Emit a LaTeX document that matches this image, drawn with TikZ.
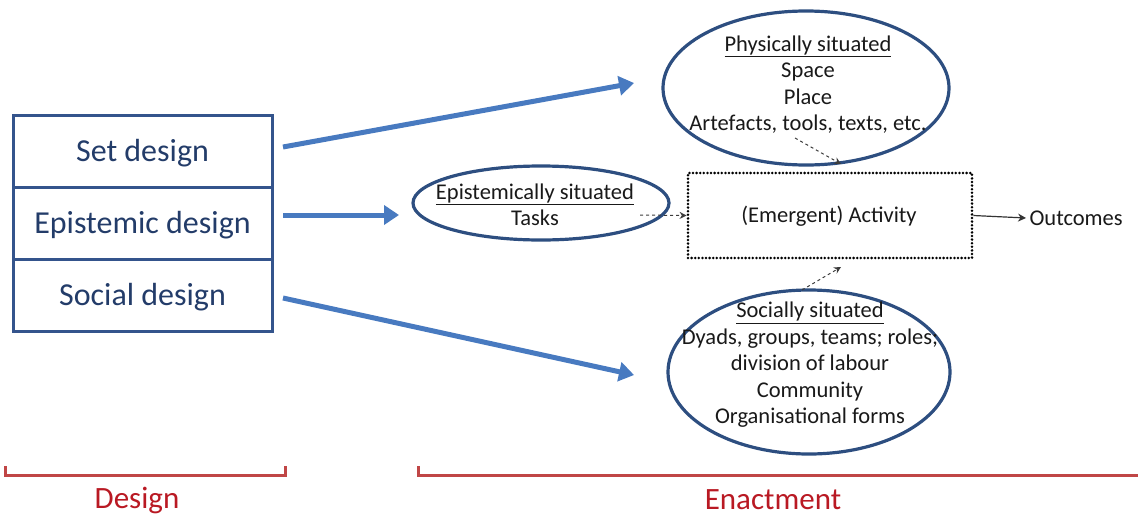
\documentclass[tikz,border=0pt]{standalone}
\usepackage{fontspec}
\setmainfont{Carlito}
\usetikzlibrary{arrows.meta,shapes.geometric,calc}
\definecolor{boxblue}{RGB}{52,84,140}
\definecolor{boxtext}{RGB}{35,60,105}
\definecolor{ellblue}{RGB}{45,78,128}
\definecolor{arrblue}{RGB}{72,122,192}
\definecolor{brred}{RGB}{192,70,70}
\definecolor{txtred}{RGB}{185,25,35}
\definecolor{dgray}{RGB}{60,60,60}
\tikzset{
  dbox/.style={draw=boxblue,line width=3pt,minimum width=259pt,minimum height=72pt,inner sep=0pt,
    text=boxtext,font=\fontsize{32}{36}\selectfont,text height=27pt,text depth=7pt},
  ell/.style={draw=ellblue,line width=3.2pt,ellipse,inner sep=0pt},
  etext/.style={align=center,font=\fontsize{22.5}{26.5}\selectfont,text=black!90},
  bigarrow/.style={draw=arrblue,line width=5pt,-{Triangle[width=19pt,length=15pt]}},
  dasharrow/.style={draw=dgray,line width=1pt,dashed,-{Stealth[width=7pt,length=7pt]}},
  solarrow/.style={draw=black!80,line width=1.2pt,-{Stealth[width=8pt,length=8pt]}},
  dotbox/.style={draw=black,line width=2.8pt,line cap=round,dash pattern=on 0pt off 3.6pt,minimum width=284pt,minimum height=85pt,inner sep=0pt},
  bracket/.style={draw=brred,line width=3pt},
  redlabel/.style={text=txtred,font=\fontsize{31}{36}\selectfont}
}
\begin{document}
\begin{tikzpicture}[x=1pt,y=-1pt]
\useasboundingbox (0,0) rectangle (1138,517);
% design boxes
\node[dbox] (sd) at (142.5,151) {Set design};
\node[dbox] (ed) at (142.5,223) {Epistemic design};
\node[dbox] (so) at (142.5,295) {Social design};
% ellipses
\node[ell,minimum width=286pt,minimum height=154pt] (phys) at (806,88) {};
\node[etext] (physt) at (808,84.5) {\underline{Physically situated}\\Space\\Place\\Artefacts, tools, texts, etc.};
\node[ell,minimum width=256pt,minimum height=74pt] (epi) at (541,203) {};
\node[etext] (epit) at (535,205) {\underline{Epistemically situated}\\Tasks};
\node[ell,minimum width=282pt,minimum height=164pt] (soc) at (809,372) {};
\node[etext] (soct) at (810,365) {\underline{Socially situated}\\Dyads, groups, teams; roles;\\division of labour\\Community\\Organisational forms};
% activity
\node[dotbox] (act) at (830,215.5) {};
\node[etext] (actt) at (829,216) {(Emergent) Activity};
\node[etext,anchor=west] (out) at (1026,218) {Outcomes};
% thick arrows
\coordinate (a1s) at (283,147);
\coordinate (a1e) at (634,83);
\coordinate (a2s) at (283,215);
\coordinate (a2e) at (399,215);
\coordinate (a3s) at (283,298);
\coordinate (a3e) at (634,375);
\draw[bigarrow] (a1s) -- (a1e);
\draw[bigarrow] (a2s) -- (a2e);
\draw[bigarrow] (a3s) -- (a3e);
% dashed arrows
\coordinate (d1s) at (795,138);
\coordinate (d1e) at (841,164);
\coordinate (d2s) at (802,290);
\coordinate (d2e) at (841,267);
\coordinate (d3s) at (640,215);
\draw[dasharrow] (d1s) -- (d1e);
\draw[dasharrow] (d2s) -- (d2e);
\draw[dasharrow] (d3s) -- (act.west);
\draw[solarrow] (act.east) -- (out.west);
% brackets
\draw[bracket] (5,466) -- (5,475) -- (285,475) -- (285,466);
\draw[bracket] (418,466) -- (418,475) -- (1140,475);
\node[redlabel] (design) at (137,500) {Design};
\node[redlabel] (enact) at (773,500) {Enactment};
\end{tikzpicture}
\end{document}
